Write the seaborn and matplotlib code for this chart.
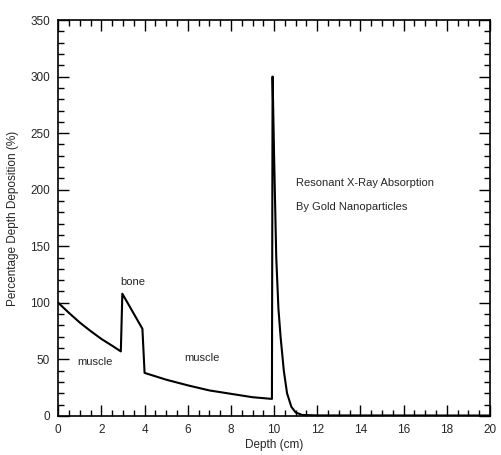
import matplotlib
matplotlib.use("Agg")
import matplotlib.pyplot as plt
import seaborn as sns
import pandas as pd
from matplotlib.ticker import MultipleLocator

sns.set_style("ticks")
plt.rcParams['font.family'] = ['Liberation Sans', 'DejaVu Sans']

depth = [0.0, 0.5, 1.0, 1.5, 2.0, 2.5, 2.9,
         2.97, 3.9,
         4.0, 5.0, 6.0, 7.0, 8.0, 9.0, 9.9,
         9.93, 10.0, 10.1, 10.2, 10.3, 10.45, 10.6, 10.8, 11.0, 11.3, 12.0, 20.0]
deposition = [100, 91, 82.5, 75, 68, 62, 57,
              108, 77,
              38, 32, 27, 22.5, 19.5, 16.5, 15,
              300, 230, 140, 95, 70, 40, 20, 8, 3, 0.8, 0.4, 0.3]

labels = ["muscle", "bone", "muscle", "Resonant X-Ray Absorption", "By Gold Nanoparticles"]
label_x = [1.7, 3.45, 6.65, 11.0, 11.0]
label_y = [48, 118, 51, 206, 185]

df = pd.DataFrame({"Depth": depth, "Dose": deposition})

fig = plt.figure(figsize=(5.02, 4.55), dpi=100)
ax = fig.add_axes([0.116, 0.086, 0.86, 0.87])
sns.lineplot(data=df, x="Depth", y="Dose", sort=False, estimator=None,
             color="black", linewidth=1.5, ax=ax)

for t, x, y in zip(labels, label_x, label_y):
    ax.text(x, y, t, fontsize=8, ha="left" if x > 10 else "center", va="center")

ax.set_xlim(0, 20)
ax.set_ylim(0, 350)
ax.xaxis.set_major_locator(MultipleLocator(2))
ax.xaxis.set_minor_locator(MultipleLocator(0.5))
ax.yaxis.set_major_locator(MultipleLocator(50))
ax.yaxis.set_minor_locator(MultipleLocator(10))
ax.tick_params(which="both", direction="in", top=True, right=True, labelsize=8.5, color="black")
ax.tick_params(which="major", length=8, width=1, pad=6)
ax.tick_params(which="minor", length=4, width=1)
for s in ax.spines.values():
    s.set_linewidth(1.2)
    s.set_color("black")
ax.set_xlabel("Depth (cm)", fontsize=8.5, labelpad=2)
ax.set_ylabel("Percentage Depth Deposition (%)", fontsize=8.5, labelpad=8)

fig.savefig("out.png", dpi=100)
